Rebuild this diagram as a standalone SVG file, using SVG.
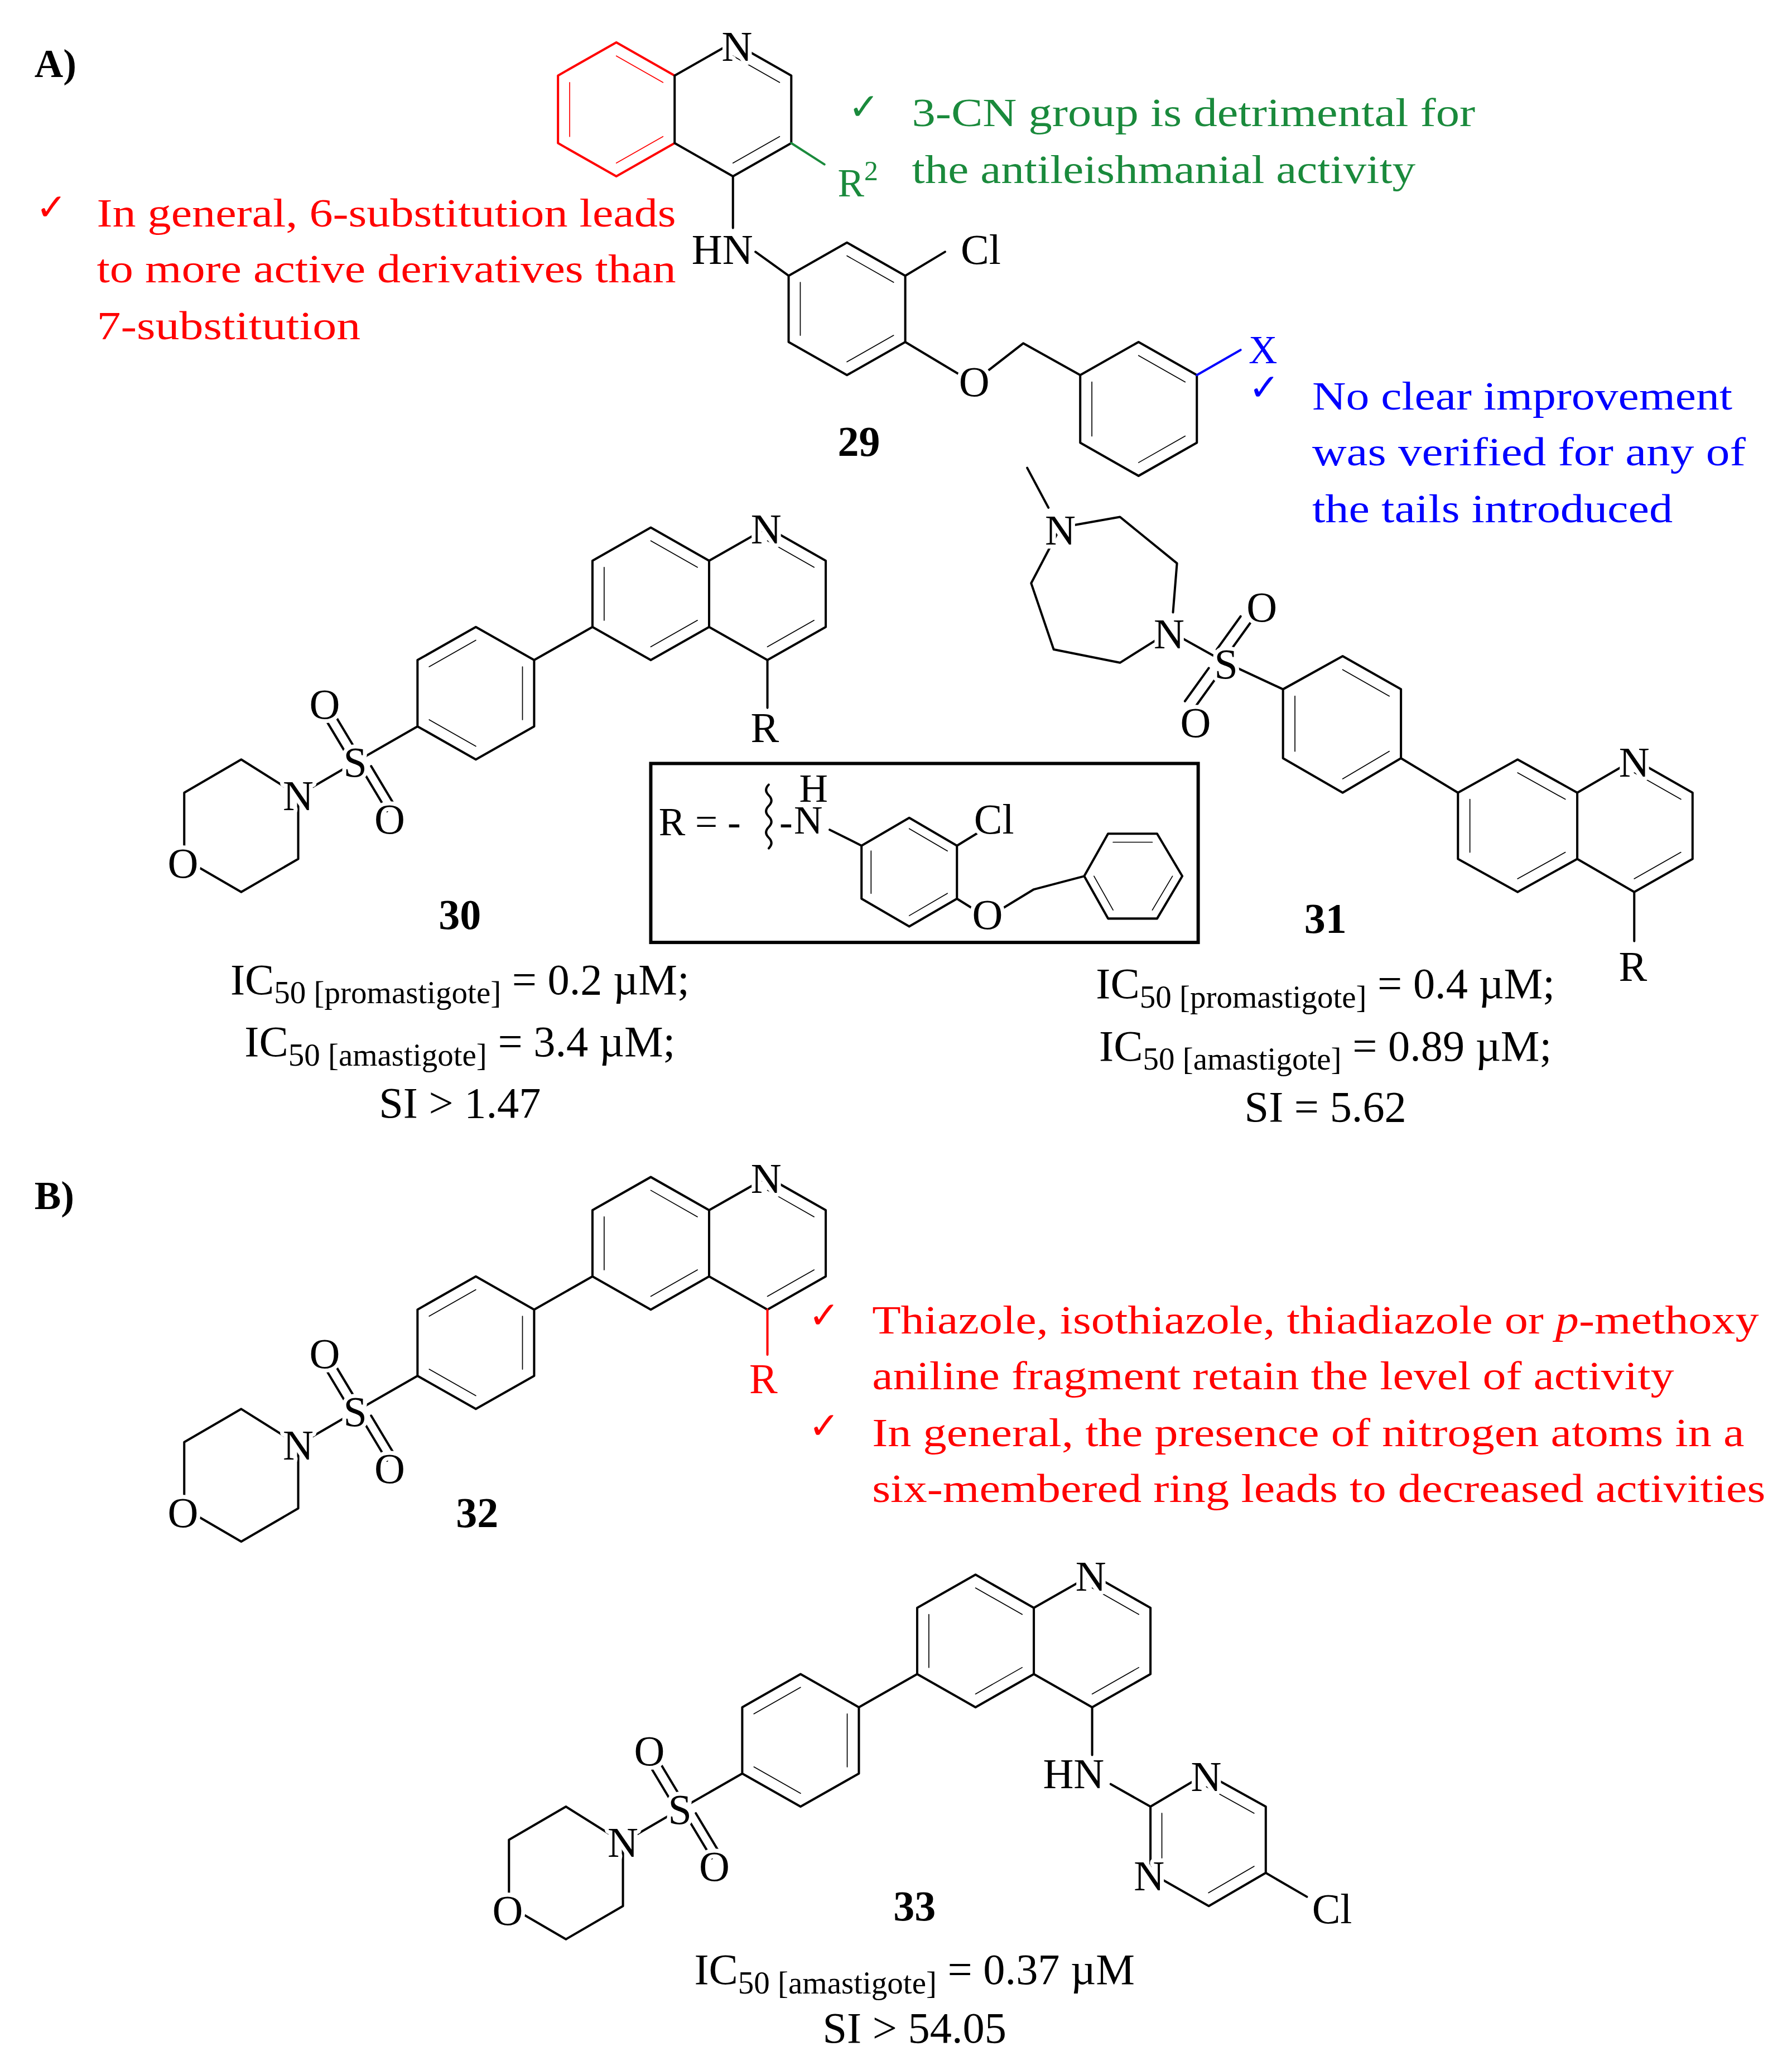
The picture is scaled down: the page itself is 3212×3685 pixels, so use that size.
<svg xmlns="http://www.w3.org/2000/svg" xmlns:xlink="http://www.w3.org/1999/xlink" width="3212" height="3685" viewBox="0 0 3212 3685">
<style>
.b{fill:none;stroke:#000;stroke-width:1.7;stroke-linejoin:round;stroke-linecap:round}
.d{fill:none;stroke:#000;stroke-width:1.7;stroke-linecap:round;vector-effect:non-scaling-stroke}
.t{font-family:"Liberation Serif","Times New Roman",serif;font-size:30px}
.a{font-family:"Liberation Serif","Times New Roman",serif;font-size:32px;text-anchor:middle;stroke:#fff;stroke-width:6px;paint-order:stroke;stroke-linejoin:round}
.lab{font-family:"Liberation Serif",serif;font-size:32px;font-weight:bold;text-anchor:middle}
.c{text-anchor:middle;font-size:33px}
.s{font-size:24px}
.k{font-family:"DejaVu Sans",sans-serif;font-size:28px}
</style>
<defs>
<g id="core">
<path class="b" d="M491,398L535,423L535,473L491,498L447,473L447,423Z M535,423L579,398L623,423L623,473L579,498L535,473 M447,473L403,498 M359,473L403,498L403,548L359,573L315,548L315,498Z M315,548L268,575 M268,575L225,600 M225,600L225,648L182,673L139,648L139,598L182,573Z M262,570L244,540 M268,565L250,535 M274,582L292,612 M280,578L298,608"/>
<g transform="translate(491,448) scale(0.8) translate(-491,-448)"><path class="d" d="M447,423L447,473 M491,398L535,423 M491,498L535,473"/></g>
<g transform="translate(579,448) scale(0.8) translate(-579,-448)"><path class="d" d="M579,398L623,423 M623,473L579,498"/></g>
<g transform="translate(359,523) scale(0.8) translate(-359,-523)"><path class="d" d="M315,498L359,473 M403,498L403,548 M315,548L359,573"/></g>
<circle cx="139" cy="650" r="12" fill="#fff"/>
<text class="a" x="578" y="410">N</text>
<text class="a" x="268" y="586">S</text>
<text class="a" x="245" y="542">O</text>
<text class="a" x="294" y="629">O</text>
<text class="a" x="225" y="611">N</text>
<text class="a" x="138" y="662">O</text>
</g>
</defs>
<rect width="3212" height="3685" fill="#fff"/>
<g transform="scale(2.3757)">
<g id="labels">
<text class="t" x="26" y="58" font-weight="bold" font-size="28">A)</text>
<text class="t" x="26" y="912" font-weight="bold" font-size="28">B)</text>
</g>
<g id="n29">
<path class="b" style="stroke:red" d="M465,32L509,57 M509,108L465,133L421,108L421,57L465,32"/>
<g transform="translate(465,83) scale(0.8) translate(-465,-83)"><path class="d" style="stroke:red" d="M421,57L421,108 M465,32L509,57 M509,108L465,133"/></g>
<path class="b" d="M509,57L509,108 M509,57L553,32L597,57L597,108L553,133L509,108 M553,133L553,172 M570,190L595,208 M639,183L683,208L683,258L639,283L595,258L595,208Z M683,208L713,190 M683,258L723,282 M745,280L772,259L815,283 M859,258L903,283L903,334L859,359L815,334L815,283Z"/>
<g transform="translate(553,83) scale(0.8) translate(-553,-83)"><path class="d" d="M553,32L597,57 M597,108L553,133"/></g>
<g transform="translate(639,233) scale(0.8) translate(-639,-233)"><path class="d" d="M639,183L683,208 M683,258L639,283 M595,208L595,258"/></g>
<g transform="translate(859,309) scale(0.8) translate(-859,-309)"><path class="d" d="M815,283L815,334 M859,258L903,283 M903,334L859,359"/></g>
<path class="b" style="stroke:#1a8a3c" d="M597,108L622,124"/>
<path class="b" style="stroke:#00f" d="M903,283L936,264"/>
<text class="a" x="556" y="46">N</text>
<text class="a" x="545" y="199">HN</text>
<text class="a" x="740" y="199">Cl</text>
<text class="a" x="735" y="299">O</text>
<text class="t" x="632" y="148" fill="#1a8a3c" font-size="32">R<tspan font-size="21" dy="-12">2</tspan></text>
<text class="t" x="942" y="274" fill="#00f" font-size="32">X</text>
<text class="lab" x="648" y="344">29</text>
</g>
<g id="note1">
<text class="k" x="27" y="166" fill="red">✓</text>
<text class="t" x="73" y="171" fill="red" textLength="437" lengthAdjust="spacingAndGlyphs">In general, 6-substitution leads</text>
<text class="t" x="73" y="213" fill="red" textLength="437" lengthAdjust="spacingAndGlyphs">to more active derivatives than</text>
<text class="t" x="73" y="256" fill="red" textLength="199" lengthAdjust="spacingAndGlyphs">7-substitution</text>
</g>
<g id="note2">
<text class="k" x="640" y="90" fill="#1a8a3c">✓</text>
<text class="t" x="688" y="95" fill="#1a8a3c" textLength="425" lengthAdjust="spacingAndGlyphs">3-CN group is detrimental  for</text>
<text class="t" x="688" y="138" fill="#1a8a3c" textLength="380" lengthAdjust="spacingAndGlyphs">the antileishmanial activity</text>
</g>
<g id="note3">
<text class="k" x="942" y="302" fill="#00f">✓</text>
<text class="t" x="990" y="309" fill="#00f" textLength="317" lengthAdjust="spacingAndGlyphs">No clear improvement</text>
<text class="t" x="990" y="351" fill="#00f" textLength="327" lengthAdjust="spacingAndGlyphs">was verified for any of</text>
<text class="t" x="990" y="394" fill="#00f" textLength="272" lengthAdjust="spacingAndGlyphs">the tails introduced</text>
</g>
<g id="n30">
<use xlink:href="#core" href="#core"/>
<path class="b" d="M579,498L579,534"/>
<text class="a" x="577" y="560">R</text>
<text class="lab" x="347" y="701">30</text>
<text class="t c" x="347" y="750">IC<tspan class="s" dy="7">50 [promastigote]</tspan><tspan dy="-7"> = 0.2 µM;</tspan></text>
<text class="t c" x="347" y="797">IC<tspan class="s" dy="7">50 [amastigote]</tspan><tspan dy="-7"> = 3.4 µM;</tspan></text>
<text class="t c" x="347" y="843">SI &gt; 1.47</text>
</g>
<g id="box">
<rect x="491" y="576" width="413" height="135" fill="none" stroke="#000" stroke-width="2.5"/>
<text class="t" x="497" y="630" font-size="32">R = -</text>
<path class="b" stroke-width="1.2" d="M580,592q-4,4 0,8q4,4 0,8q-4,4 0,8q4,4 0,8q-4,4 0,8q4,4 0,8"/>
<text class="t" x="588" y="630">-</text>
<text class="t" x="599" y="629" font-size="28">N</text>
<text class="t" x="603" y="605" font-size="24">H</text>
<path class="b" d="M626,626L650,638 M650,638L686,617L722,638L722,678L686,699L650,678Z M722,638L740,627 M722,678L738,688 M752,688L780,671L818,661 M818,661L836,629L873,629L892,661L873,693L836,693Z"/>
<g transform="translate(686,658) scale(0.8) translate(-686,-658)"><path class="d" d="M686,617L722,638 M722,678L686,699 M650,638L650,678"/></g>
<g transform="translate(855,661) scale(0.8) translate(-855,-661)"><path class="d" d="M836,629L873,629 M892,661L873,693 M836,693L818,661"/></g>
<text class="a" x="750" y="629" font-size="27">Cl</text>
<text class="a" x="745" y="701" font-size="27">O</text>
</g>
<g id="n31">
<path class="b" d="M775,353L791,383 M800,398L845,390L888,425L885,462 M800,398L778,440L795,490L845,500L880,478 M882,476L925,500 M918,490L936,465 M926,494L944,469 M920,508L902,533 M912,504L894,529 M925,500L968,520 M968,520L1013,495L1057,520L1057,572L1013,598L968,572Z M1057,572L1100,598 M1100,598L1145,573L1190,598L1190,648L1145,673L1100,648Z M1190,598L1233,573L1277,598L1277,648L1233,673L1190,648 M1233,673L1233,710"/>
<g transform="translate(1013,546) scale(0.8) translate(-1013,-546)"><path class="d" d="M1013,495L1057,520 M1057,572L1013,598 M968,520L968,572"/></g>
<g transform="translate(1145,623) scale(0.8) translate(-1145,-623)"><path class="d" d="M1145,573L1190,598 M1100,598L1100,648 M1190,648L1145,673"/></g>
<g transform="translate(1233,623) scale(0.8) translate(-1233,-623)"><path class="d" d="M1233,573L1277,598 M1277,648L1233,673"/></g>
<text class="a" x="800" y="411">N</text>
<text class="a" x="882" y="489">N</text>
<text class="a" x="925" y="512">S</text>
<text class="a" x="952" y="469">O</text>
<text class="a" x="902" y="556">O</text>
<text class="a" x="1233" y="586">N</text>
<text class="a" x="1232" y="740">R</text>
<text class="lab" x="1000" y="704">31</text>
<text class="t c" x="1000" y="753">IC<tspan class="s" dy="7">50 [promastigote]</tspan><tspan dy="-7"> = 0.4 µM;</tspan></text>
<text class="t c" x="1000" y="800">IC<tspan class="s" dy="7">50 [amastigote]</tspan><tspan dy="-7"> = 0.89 µM;</tspan></text>
<text class="t c" x="1000" y="846">SI = 5.62</text>
</g>
<g id="n32">
<use xlink:href="#core" href="#core" transform="translate(0,490)"/>
<path class="b" style="stroke:red" d="M579,988L579,1022"/>
<text class="a" x="576" y="1051" fill="red">R</text>
<text class="lab" x="360" y="1152">32</text>
</g>
<g id="note4">
<text class="k" x="610" y="1002" fill="red">✓</text>
<text class="t" x="658" y="1006" fill="red" textLength="669" lengthAdjust="spacingAndGlyphs">Thiazole, isothiazole, thiadiazole or <tspan font-style="italic">p</tspan>-methoxy</text>
<text class="t" x="658" y="1048" fill="red" textLength="605" lengthAdjust="spacingAndGlyphs">aniline fragment retain the level of activity</text>
<text class="k" x="610" y="1085" fill="red">✓</text>
<text class="t" x="658" y="1091" fill="red" textLength="658" lengthAdjust="spacingAndGlyphs">In general, the presence of nitrogen atoms in a</text>
<text class="t" x="658" y="1133" fill="red" textLength="674" lengthAdjust="spacingAndGlyphs">six-membered ring leads to decreased activities</text>
</g>
<g id="n33">
<use xlink:href="#core" href="#core" transform="translate(245,790)"/>
<path class="b" d="M824,1288L824,1324 M838,1346L868,1363 M868,1363L910,1338L955,1363L955,1413L912,1438L868,1413Z M955,1413L986,1431"/>
<g transform="translate(911,1388) scale(0.8) translate(-911,-1388)"><path class="d" d="M910,1338L955,1363 M955,1413L912,1438 M868,1363L868,1413"/></g>
<text class="a" x="810" y="1349">HN</text>
<text class="a" x="910" y="1351">N</text>
<text class="a" x="867" y="1426">N</text>
<text class="a" x="1005" y="1451">Cl</text>
<text class="lab" x="690" y="1449">33</text>
<text class="t c" x="690" y="1497">IC<tspan class="s" dy="7">50 [amastigote]</tspan><tspan dy="-7"> = 0.37 µM</tspan></text>
<text class="t c" x="690" y="1541">SI &gt; 54.05</text>
</g>
</g>
</svg>
